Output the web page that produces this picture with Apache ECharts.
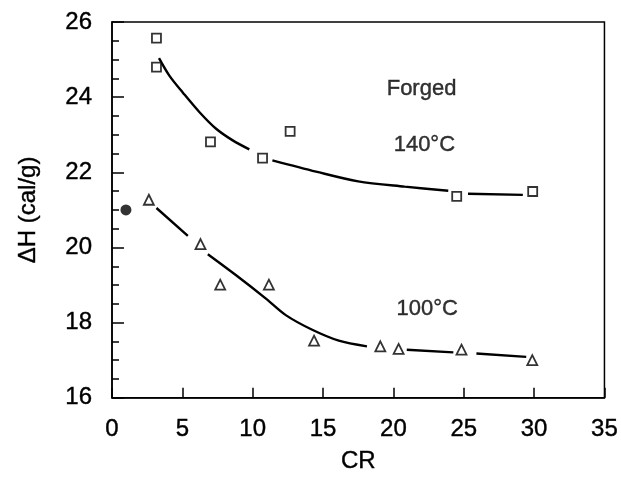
<!DOCTYPE html>
<html>
<head>
<meta charset="utf-8">
<script src="https://cdn.jsdelivr.net/npm/echarts@6/dist/echarts.min.js"></script>
<style>
  html, body { margin: 0; padding: 0; background: #fff; }
  #chart { width: 621px; height: 479px; }
</style>
</head>
<body>
<div id="chart"></div>
<script>
// measured points, 140°C (squares)
const sqX = [3.16, 3.16, 7.0, 10.7, 12.66, 24.5, 29.9];
const sqY = [25.57, 24.8, 22.81, 22.38, 23.09, 21.36, 21.49];

// measured points, 100°C (triangles)
const triX = [2.62, 6.29, 7.69, 11.15, 14.36, 19.07, 20.37, 24.84, 29.87];
const triY = [21.27, 20.09, 19.01, 19.01, 17.52, 17.37, 17.3, 17.28, 17.0];

// as-received (filled circle)
const dotX = [0.99];
const dotY = [21.0];

// fitted curves as drawn, null = break in the line
const fit140X = [3.34, 4.1, 5.04, 6.22, 7.4, 8.58, 9.76, null, 11.4, 14.5, 17.5, 20.8, 23.9, null, 25.3, 29.2];
const fit140Y = [25.04, 24.56, 24.12, 23.6, 23.16, 22.85, 22.61, null, 22.32, 22.02, 21.76, 21.62, 21.51, null, 21.43, 21.4];
const fit100X = [3.16, 5.39, null, 6.81, 8.82, 10.94, 12.35, 14.23, 16.12, 18.12, null, 20.95, 24.26, null, 25.9, 29.44];
const fit100Y = [21.05, 20.31, null, 19.82, 19.26, 18.64, 18.2, 17.81, 17.52, 17.37, null, 17.28, 17.21, null, 17.18, 17.09];

// annotations
const noteText = ["Forged", "140°C", "100°C"];
const noteX = [22.0, 22.2, 22.4];
const noteY = [24.21, 22.72, 18.37];

const xTicks = [0, 5, 10, 15, 20, 25, 30, 35];
const yTicks = [16, 18, 20, 22, 24, 26];

const pairs = (xs, ys) => xs.map((x, i) => (x === null ? [null, null] : [x, ys[i]]));
const font = "Liberation Sans, Arial, Helvetica, sans-serif";
// scanned text looks a bit heavier than plain regular
const ink = { color: "#000", fontFamily: font, textBorderColor: "#000", textBorderWidth: 0.4 };

const chart = echarts.init(document.getElementById("chart"));

const fitLine = (xs, ys) => ({
  type: "line",
  data: pairs(xs, ys),
  smooth: 0.3,
  showSymbol: false,
  connectNulls: false,
  lineStyle: { color: "#000", width: 2.4 },
  silent: true,
  z: 2,
});

const option = {
  animation: false,
  backgroundColor: "#fff",
  textStyle: { fontFamily: font },
  grid: {
    left: 112,
    top: 22,
    right: 14,
    bottom: 77,
    show: true,
    borderColor: "#000",
    borderWidth: 1.5,
  },
  xAxis: {
    type: "value",
    min: xTicks[0],
    max: xTicks[xTicks.length - 1],
    interval: 5,
    name: "CR",
    nameLocation: "middle",
    nameGap: 52,
    nameTextStyle: { fontSize: 24, ...ink },
    axisLine: { lineStyle: { color: "#000", width: 1.5 } },
    axisTick: { inside: true, length: 10, lineStyle: { color: "#000", width: 1.5 } },
    axisLabel: { fontSize: 24, margin: 20, ...ink },
    splitLine: { show: false },
  },
  yAxis: {
    type: "value",
    min: yTicks[0],
    max: yTicks[yTicks.length - 1],
    interval: 2,
    name: "ΔH (cal/g)",
    nameLocation: "middle",
    nameGap: 72,
    nameTextStyle: { fontSize: 24, ...ink },
    axisLine: { lineStyle: { color: "#000", width: 1.5 } },
    axisTick: { inside: true, length: 12, lineStyle: { color: "#000", width: 1.5 } },
    minorTick: { show: true, splitNumber: 4, length: 7, lineStyle: { color: "#000", width: 1.5 } },
    axisLabel: { fontSize: 24, margin: 20, ...ink },
    splitLine: { show: false },
  },
  series: [
    fitLine(fit140X, fit140Y),
    fitLine(fit100X, fit100Y),
    {
      type: "scatter",
      data: pairs(sqX, sqY),
      symbol: "rect",
      symbolSize: 9,
      itemStyle: { color: "#fff", borderColor: "#000", borderWidth: 1.8 },
      z: 3,
    },
    {
      type: "scatter",
      data: pairs(triX, triY),
      symbol: "triangle",
      symbolSize: 10,
      itemStyle: { color: "#fff", borderColor: "#000", borderWidth: 1.8 },
      z: 3,
    },
    {
      type: "scatter",
      data: pairs(dotX, dotY),
      symbol: "circle",
      symbolSize: 11,
      itemStyle: { color: "#000" },
      z: 3,
    },
    {
      type: "scatter",
      data: noteX.map((x, i) => ({ value: [x, noteY[i]], name: noteText[i] })),
      symbolSize: 0,
      silent: true,
      label: {
        show: true,
        position: "inside",
        formatter: (p) => p.name,
        fontSize: 22,
        ...ink,
      },
    },
  ],
};

chart.setOption(option);
</script>
</body>
</html>
